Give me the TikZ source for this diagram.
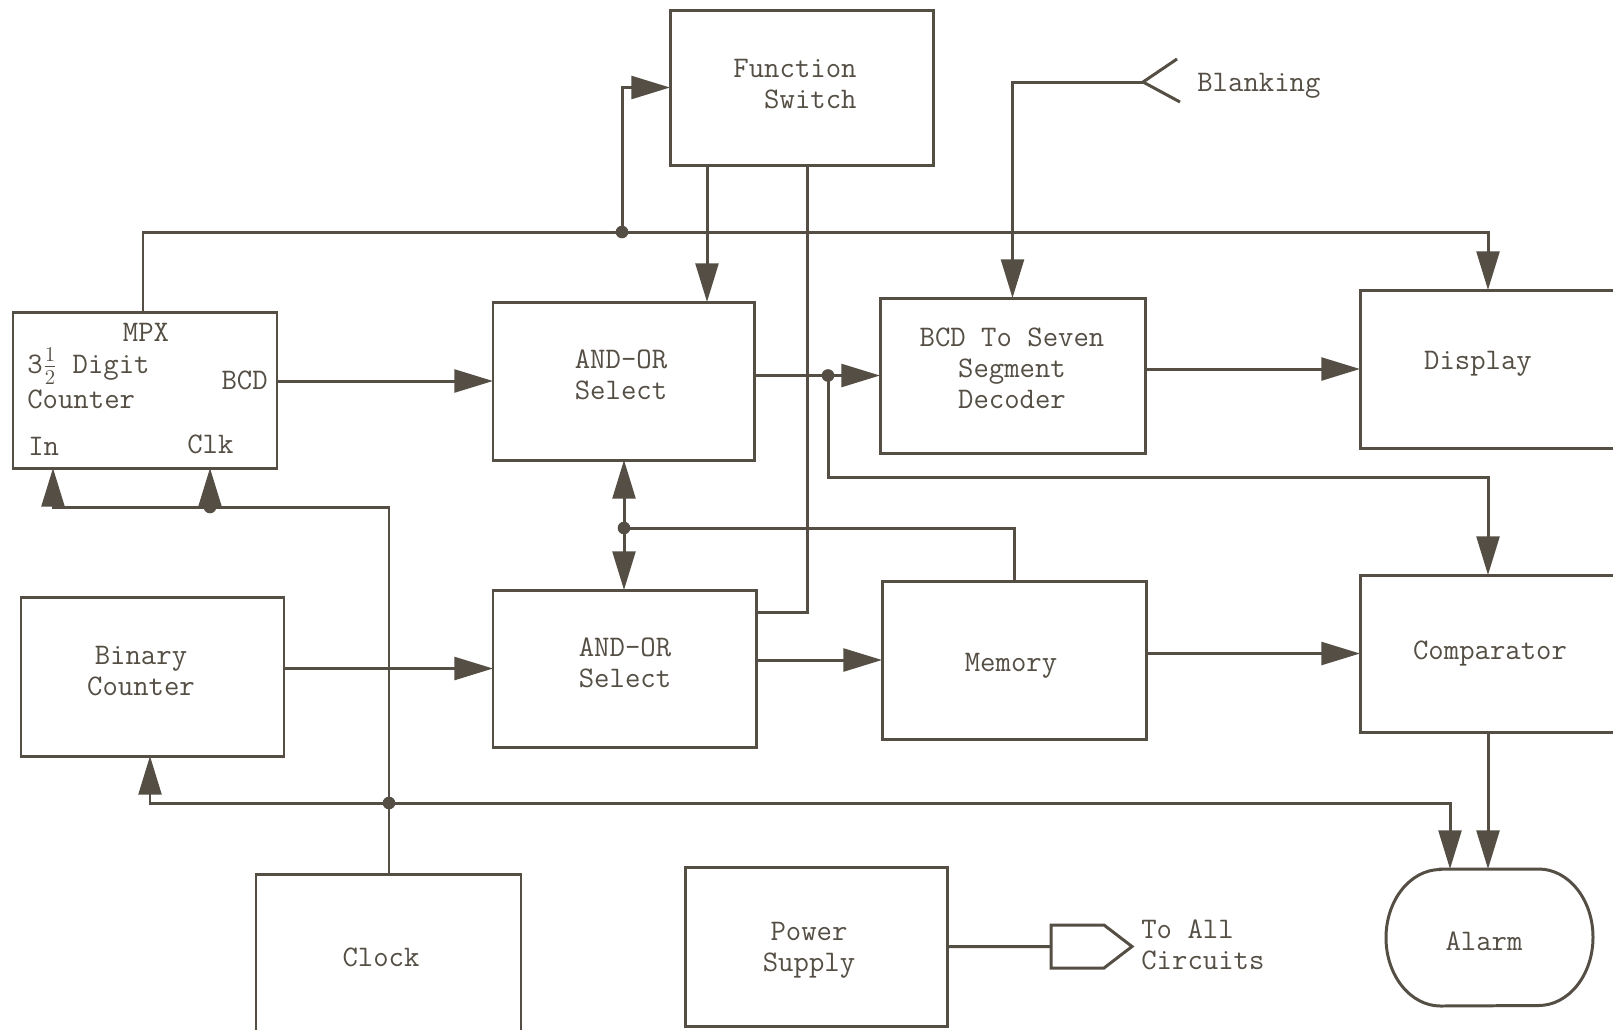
\documentclass[tikz,border=0pt]{standalone}
\usepackage{fontspec}
\usetikzlibrary{arrows.meta,fit}
\definecolor{ink}{RGB}{84,78,68}
\newcommand\tyfont{\fontsize{17}{17.6}\selectfont\ttfamily\addfontfeature{FakeBold=1.6}}
\begin{document}
\begin{tikzpicture}[x=0.02cm,y=-0.02cm,
  box/.style={draw=ink, line width=1.7pt, inner sep=0pt, outer sep=0pt},
  txt/.style={text=ink, font=\tyfont, inner sep=0pt, align=center},
  arr/.style={draw=ink, line width=1.7pt, -{Triangle[length=22pt,width=13pt]}},
  wire/.style={draw=ink, line width=1.7pt},
  jdot/.style={fill=ink}]
\useasboundingbox (0,0) rectangle (1613,1029);
\clip (0,0) rectangle (1613,1029);
\fill[white] (0,0) rectangle (1613,1029);

% boxes
\node[box, fit={(670,10) (933,165)}] (fs) {};
\node[box, fit={(13,312) (277,468)}] (cnt) {};
\node[box, fit={(493,302) (754,460)}] (aou) {};
\node[box, fit={(880,298) (1145,453)}] (dec) {};
\node[box, fit={(1360,290) (1700,448)}] (disp) {};
\node[box, fit={(21,597) (284,756)}] (bin) {};
\node[box, fit={(493,590) (756,747)}] (aol) {};
\node[box, fit={(882,581) (1146,739)}] (mem) {};
\node[box, fit={(1360,575) (1700,732)}] (comp) {};
\node[box, fit={(256,874) (521,1100)}] (clk) {};
\node[box, fit={(685,867) (947,1026)}] (ps) {};
\node[inner sep=0pt, outer sep=0pt, fit={(1386,869) (1593,1006)}] (alarm) {};
\draw[wire] ([xshift=31pt]alarm.north west) -- ([xshift=-31pt]alarm.north east)
  arc[start angle=90, end angle=-90, x radius=31pt, y radius=38.85pt]
  -- ([xshift=31pt]alarm.south west)
  arc[start angle=270, end angle=90, x radius=31pt, y radius=38.85pt] -- cycle;

% texts
\node[txt, align=right] (tfs) at (795,84.5) {Function\\Switch};
\node[txt] (tmpx) at (146,332) {MPX};
\node[txt, anchor=west] (tdig) at (27,366) {3$\frac{1}{2}$ Digit};
\node[txt, anchor=west] (tcnt) at (27,399) {Counter};
\node[txt, anchor=east] (tbcd) at (268,380) {BCD};
\node[txt, anchor=west] (tin) at (28,446) {In};
\node[txt, anchor=west] (tclkin) at (187,444) {Clk};
\node[txt] (taou) at (621,375) {AND-OR\\Select};
\node[txt] (taol) at (625,663) {AND-OR\\Select};
\node[txt] (tdec) at (1012,368.5) {BCD To Seven\\Segment\\Decoder};
\node[txt] (tdisp) at (1478,364) {Display};
\node[txt] (tbin) at (141,671) {Binary\\Counter};
\node[txt] (tmem) at (1011,666) {Memory};
\node[txt] (tcomp) at (1490,653) {Comparator};
\node[txt] (tclk) at (381,957) {Clock};
\node[txt] (tps) at (809,950) {Power\\Supply};
\node[txt] (talarm) at (1484,941) {Alarm};
\node[txt, anchor=west] (tblank) at (1197,86) {Blanking};
\node[txt, anchor=west, align=left] (tall) at (1141,945) {To All\\Circuits};

% named points
\coordinate (xmpx) at (143,0);
\coordinate (busR) at (1488,232);
\coordinate (j2) at (622,232);
\coordinate (x707) at (707,0);
\coordinate (c612) at (807,612);
\coordinate (xj1) at (828,0);
\coordinate (j1) at (dec.west -| xj1);
\coordinate (cmpbend) at (1488,477);
\coordinate (blk) at (1143,82);
\coordinate (j3) at (624,528);
\coordinate (x1488) at (1488,0);
\coordinate (j4) at (389,803);
\coordinate (x150) at (150,0);
\coordinate (x1450) at (1450,0);
\coordinate (cin) at (53,507);
\coordinate (j5) at (210,507);
\coordinate (connL) at (1051,946.5);

% top bus
\draw[arr] (cnt.north -| xmpx) |- (busR) -- (disp.north -| busR);
\draw[arr] (j2) |- (fs.west);
\draw[arr] (fs.south -| x707) -- (aou.north -| x707);
\draw[wire] (fs.south -| c612) -- (c612) -- (aol.east |- c612);

% data path
\draw[arr] (cnt.east |- aou.west) -- (aou.west);
\draw[arr] (aou.east |- dec.west) -- (dec.west);
\draw[arr] (j1) |- (cmpbend) -- (comp.north -| cmpbend);
\draw[arr] (dec.east |- disp.west) -- (disp.west);
\draw[arr] (bin.east |- aol.west) -- (aol.west);
\draw[arr] (aol.east |- mem.west) -- (mem.west);
\draw[arr] (mem.east |- comp.west) -- (comp.west);

% blanking
\draw[arr] (blk) -| (dec.north);
\draw[wire] (blk) -- ++(34,-23);
\draw[wire] (blk) -- ++(37,20);

% memory feedback
\draw[arr] (j3) -- (aou.south -| j3);
\draw[arr] (j3) -- (aol.north -| j3);
\draw[wire] (j3) -| (mem.north);

% comparator to alarm
\draw[arr] (comp.south -| x1488) -- (alarm.north -| x1488);

% clock bus
\draw[arr] (j4) -| (bin.south -| x150);
\draw[arr] (j4) -| (alarm.north -| x1450);
\draw[arr] (clk.north -| j4) |- (cin) -- (cnt.south -| cin);
\draw[arr] (j5) -- (cnt.south -| j5);

% power supply
\draw[wire] (ps.east) -- (connL);
\draw[wire, line join=miter] (connL) -- ++(0,-21.5) -- ++(53,0) -- ++(28,21.5) -- ++(-28,21.5) -- ++(-53,0) -- cycle;

% junction dots
\foreach \p in {j1,j2,j3,j4,j5} \fill[jdot] (\p) circle (3.6pt);
\end{tikzpicture}
\end{document}
